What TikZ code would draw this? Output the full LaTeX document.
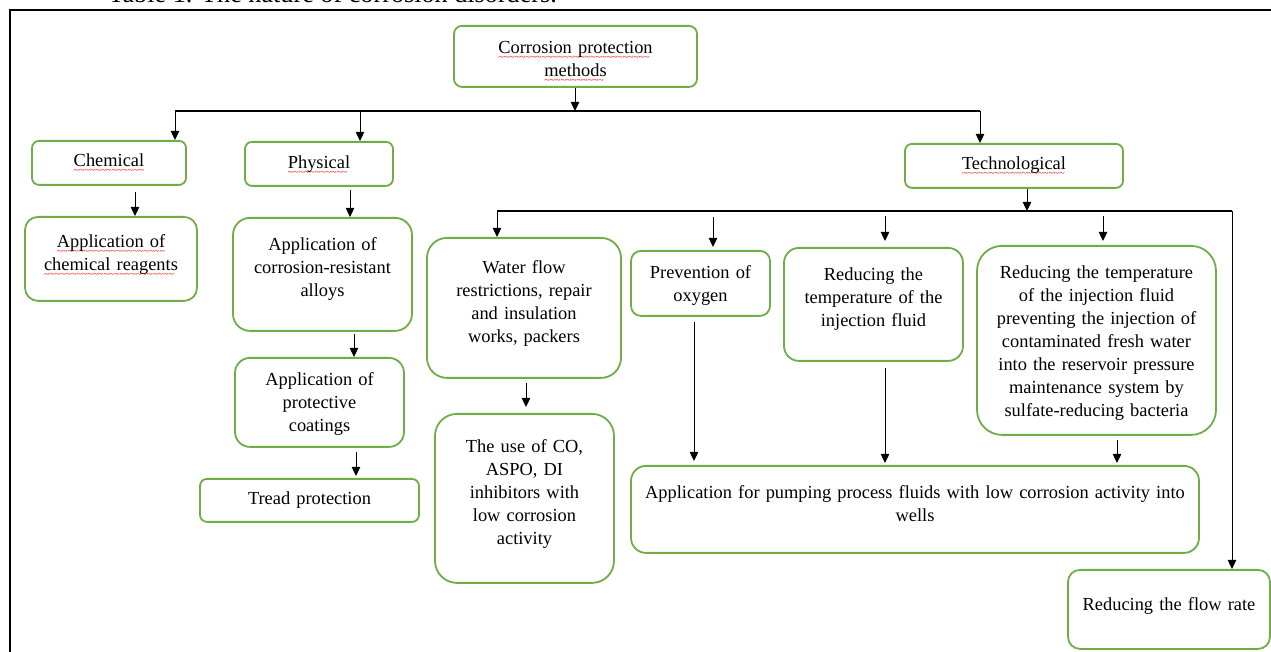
\documentclass[tikz,border=0pt]{standalone}
\usepackage{fontspec}
\setmainfont{Liberation Serif}
\usetikzlibrary{arrows.meta}
\definecolor{boxgreen}{RGB}{112,173,71}
\newsavebox\spellbox
\newcommand\spellmark[1]{\leavevmode\sbox\spellbox{#1}\rlap{\color{red}\raisebox{-3.4pt}{\fontsize{5}{5}\selectfont\leaders\hbox{\textasciitilde}\hskip\wd\spellbox}}\usebox\spellbox}

\begin{document}
\begin{tikzpicture}[
        x=0.5pt, y=-0.5pt,
        >={Triangle[length=4.5pt,width=4.2pt]},
        box/.style={
            draw=boxgreen,
            line width=0.9pt,
            rounded corners=4pt,
            anchor=north,
            align=center,
            inner sep=0pt,
            font=\fontsize{9.2}{11.5}\selectfont
        },
        arrow/.style={->, line width=0.5pt, draw=black},
        bus/.style={line width=0.8pt, draw=black}
    ]
    \useasboundingbox (0,0) rectangle (1271,652);

    \node[anchor=base west, inner sep=0pt, font=\fontsize{13.1}{15}\selectfont] (caption) at (108,3) {Table 1. The nature of corrosion disorders.};
    \draw[line width=1.1pt] (10,700) -- (10,10) -- (1300,10);

    \node[box, text width=121.5pt, text height=14pt, text depth=16.5pt] (root) at (575.5,25) {\spellmark{Corrosion protection}\\\spellmark{methods}};

    \node[box, text width=77pt, text height=13pt, text depth=9pt, rounded corners=3.5pt] (chem) at (109,140) {\spellmark{Chemical}};
    \node[box, text width=74pt, text height=13.5pt, text depth=8.5pt, rounded corners=3.5pt] (phys) at (319,141) {\spellmark{Physical}};
    \node[box, text width=109pt, text height=13pt, text depth=9pt, rounded corners=3.5pt] (tech) at (1014,143) {\spellmark{Technological}};

    \node[box, text width=86pt, text height=15.5pt, text depth=26.5pt, rounded corners=6.5pt] (reag) at (111,216) {\spellmark{Application of}\\\spellmark{chemical reagents}};
    \node[box, text width=89.5pt, text height=16.5pt, text depth=40pt, rounded corners=8.5pt] (alloys) at (322.5,217) {Application of\\corrosion-resistant\\alloys};
    \node[box, text width=84.5pt, text height=14pt, text depth=30.5pt, rounded corners=7.5pt] (coat) at (319.5,357) {Application of\\protective\\coatings};
    \node[box, text width=109.5pt, text height=13pt, text depth=8.5pt, rounded corners=3.5pt] (tread) at (309.5,478) {Tread protection};

    \node[box, text width=97pt, text height=18pt, text depth=52pt, rounded corners=10pt] (water) at (524,237) {Water flow\\restrictions, repair\\and insulation\\works, packers};
    \node[box, text width=89.5pt, text height=19.5pt, text depth=65pt, rounded corners=11pt] (inhib) at (524.5,413) {The use of CO,\\ASPO, DI\\inhibitors with\\low corrosion\\activity};
    \node[box, text width=69.5pt, text height=14pt, text depth=18.5pt, rounded corners=5pt] (oxygen) at (700.5,250) {Prevention of\\oxygen};
    \node[box, text width=89.5pt, text height=16.5pt, text depth=40pt, rounded corners=7.5pt] (temp) at (873.5,247) {Reducing the\\temperature of the\\injection fluid};
    \node[box, text width=119.5pt, text height=16.5pt, text depth=78pt, rounded corners=12.5pt] (sulfate) at (1096.5,245) {Reducing the temperature\\of the injection fluid\\preventing the injection of\\contaminated fresh water\\into the reservoir pressure\\maintenance system by\\sulfate-reducing bacteria};
    \node[box, text width=284pt, text height=16.5pt, text depth=27pt, rounded corners=7.5pt] (pump) at (915,465) {Application for pumping process fluids with low corrosion activity into\\wells};
    \node[box, text width=101pt, text height=20.5pt, text depth=19pt, rounded corners=6pt] (flow) at (1169,569) {Reducing the flow rate};

    % first level
    \coordinate (busA) at (575,111);
    \coordinate (busL) at (175,111);
    \coordinate (busP) at (360,111);
    \coordinate (busR) at (980,111);
    \draw[bus] (busL) -- (busR);
    \draw[arrow] (root.south -| busA) -- (busA);
    \draw[arrow] (busL) -- (busL |- chem.north);
    \draw[arrow] (busP) -- (busP |- phys.north);
    \draw[arrow] (busR) -- (busR |- tech.north);

    % chemical and physical
    \draw[arrow, shorten <=3pt] ([xshift=13pt]chem.south) -- ([xshift=13pt]chem.south |- reag.north);
    \draw[arrow, shorten <=1.5pt] ([xshift=15.5pt]phys.south) -- ([xshift=15.5pt]phys.south |- alloys.north);
    \draw[arrow, shorten <=1pt] ([xshift=15.75pt]alloys.south) -- ([xshift=15.75pt]alloys.south |- coat.north);
    \draw[arrow, shorten <=2pt, shorten >=1pt] ([xshift=18.25pt]coat.south) -- ([xshift=18.25pt]coat.south |- tread.north);

    % technological
    \coordinate (busB) at (1027,211);
    \coordinate (busBL) at (497,211);
    \coordinate (busBR) at (1232,211);
    \coordinate (tO) at (713,211);
    \coordinate (tT) at (885,211);
    \coordinate (tS) at (1103,211);
    \draw[bus] (busBL) -- (busBR);
    \draw[arrow] (busB |- tech.south) -- (busB);
    \draw[arrow] (busBL) -- (busBL |- water.north);
    \draw[arrow] (busBR) -- (busBR |- flow.north);
    \draw[arrow, shorten <=3pt, shorten >=1.5pt] (tO) -- (tO |- oxygen.north);
    \draw[arrow, shorten <=2.5pt, shorten >=3pt] (tT) -- (tT |- temp.north);
    \draw[arrow, shorten <=2.5pt, shorten >=2pt] (tS) -- (tS |- sulfate.north);

    \draw[arrow, shorten <=2pt, shorten >=3pt] ([xshift=1pt]water.south) -- ([xshift=1pt]water.south |- inhib.north);
    \draw[arrow, shorten <=2.5pt, shorten >=2pt] ([xshift=-3.25pt]oxygen.south) -- ([xshift=-3.25pt]oxygen.south |- pump.north);
    \draw[arrow, shorten <=3pt, shorten >=1pt] ([xshift=5.75pt]temp.south) -- ([xshift=5.75pt]temp.south |- pump.north);
    \draw[arrow, shorten <=2pt, shorten >=1pt] ([xshift=10.25pt]sulfate.south) -- ([xshift=10.25pt]sulfate.south |- pump.north);

\end{tikzpicture}
\end{document}
